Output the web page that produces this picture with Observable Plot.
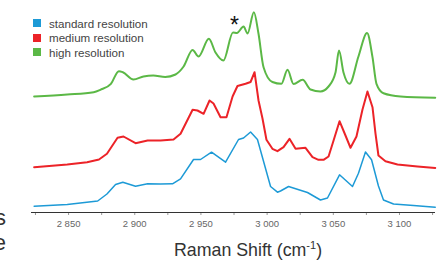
<!DOCTYPE html>
<html><head><meta charset="utf-8">
<script src="https://cdn.jsdelivr.net/npm/d3@7"></script>
<script src="https://cdn.jsdelivr.net/npm/@observablehq/plot@0.6"></script>
<style>
body{margin:0;background:#fff;font-family:"Liberation Sans",Arial,sans-serif;}
#wrap{position:relative;width:446px;height:262px;overflow:hidden;}
#wrap svg{position:absolute;left:0;top:0;}
.legend{position:absolute;left:33px;top:16px;font-size:11.6px;color:#444;}
.legend .row{display:flex;align-items:center;height:14.5px;}
.legend .sw{width:8px;height:8px;margin-right:8px;}
.xlabel{position:absolute;top:240px;left:248px;transform:translateX(-50%);font-size:17.8px;color:#333;white-space:nowrap;line-height:20px;}
.xlabel sup{font-size:11px;vertical-align:7px;line-height:0;}
.frag{position:absolute;right:440px;font-size:22px;color:#333;line-height:22px;}
</style></head><body><div id="wrap"></div>
<script>
// Series meta
const seriesNames = ["standard resolution", "medium resolution", "high resolution"];
const seriesColors = ["#1d9ad6", "#ec2328", "#5bb846"];
const seriesOffsets = [0, 40, 110];
const seriesWidths = [1.5, 2, 2];

// Raman shift (cm-1) / intensity readings
const standardX = [2824,2849,2872,2879,2885.5,2891,2900.6,2909.7,2919.5,2928.5,2934.6,2944.4,2949.7,2958,2968.6,2978.4,2982.2,2987.5,2992.7,3002.6,3007.8,3010.1,3016.2,3030.5,3040.3,3045.6,3054.7,3064.5,3069,3074.3,3078.9,3084.1,3087.9,3095.5,3110.6,3127];
const standardY = [0.3,2,5.5,12.5,22,24.3,20.3,22.7,22.5,22.7,27.7,47,47,54.3,44.3,67,68.5,74.5,67,20,14.3,15.5,20,14,6.5,8.5,31.7,20,33.3,54.5,46.7,20.5,6.5,2.5,1,-0.7];

const mediumX = [2824,2849,2864,2873,2879,2887,2891.5,2900.6,2909.7,2919.5,2929.3,2934.6,2943.7,2947.4,2952,2956.5,2959.5,2964.8,2969.3,2973.9,2977.6,2983.7,2987.5,2990.5,2993.5,2996.5,2999.5,3004,3007.8,3012.4,3016.9,3021.5,3029,3034.3,3038.8,3042.6,3046.4,3050.2,3054.7,3059.2,3063,3067.5,3072,3075.8,3079.6,3081.9,3084.1,3089.4,3098.5,3113.6,3127];
const mediumY = [-0.7,2,4.3,7,12.7,28.7,30,23.3,26,26,27,32.7,56.7,56,52.7,66,63,49.3,49.3,70,80.5,82.7,84.5,94.3,66,48,26.7,17.7,15.3,19.3,27.7,17.7,18.7,9.3,6.7,6.7,10,26,45.3,31,18.7,30,56.7,75,59.3,32.7,11,5.3,2,0,-1.5];

const highX = [2824,2849,2869,2874,2882,2888,2891,2899,2906.6,2914,2923,2930.8,2936.9,2943.7,2948.2,2956,2961,2967,2974.2,2977.2,2982.2,2985.2,2990,2993.5,2997.3,3004,3010.8,3015.4,3020,3026.8,3032.8,3040.3,3046.4,3051.7,3054.3,3057.7,3062.2,3069,3075.5,3079.6,3082.6,3087.9,3100.8,3127];
const highY = [0,2,4.3,6.7,12.7,25.3,24.3,17,20,21,19.5,22,30,46.5,40,57.7,44,36,64,63.5,70,63,84.3,62.7,29.3,14.5,12.7,26.7,12.5,16.7,7,5,10,24.3,46,24,12.7,40,63.5,39.3,12.7,3.3,0,-1.3];

// x ticks
const minorTicks = [2825,2850,2875,2900,2925,2950,2975,3000,3025,3050,3075,3100,3125];
const labelTicks = [2850,2900,2950,3000,3050,3100];

// annotation (asterisk over the high-resolution band)
const annotationX = [2975.4];
const annotationY = [181];
const annotationText = ["*"];

const xs = [standardX, mediumX, highX];
const ys = [standardY, mediumY, highY];
const rows = [];
seriesNames.forEach((name, i) => {
  xs[i].forEach((x, j) => rows.push({series: name, x, y: ys[i][j] + seriesOffsets[i]}));
});
const annotations = annotationX.map((x, i) => ({x, y: annotationY[i], text: annotationText[i]}));

const fmt = d3.formatLocale({decimal: ".", thousands: " ", grouping: [3], currency: ["", ""]}).format(",");

const curves = ["linear", "linear", "monotone-x"];
const plot = Plot.plot({
  width: 446,
  height: 262,
  marginLeft: 31,
  marginRight: 11,
  marginTop: 0,
  marginBottom: 50,
  style: {fontFamily: '"Liberation Sans", Arial, sans-serif', background: "transparent"},
  x: {domain: [2822, 3127.2]},
  y: {domain: [-6, 206], axis: null},
  marks: [
    ...seriesNames.map((name, i) => Plot.line(rows.filter(r => r.series === name), {
      x: "x", y: "y", stroke: seriesColors[i], strokeWidth: seriesWidths[i],
      curve: curves[i], strokeLinejoin: "round"
    })),
    Plot.text(annotations, {x: "x", y: "y", text: "text", fontSize: 23, fill: "#111"}),
    Plot.axisX({ticks: minorTicks, tickSize: 3, tickFormat: () => "", stroke: "#999", label: null}),
    Plot.axisX({ticks: labelTicks, tickSize: 0, tickPadding: 8, tickFormat: fmt, fontSize: 9.5, fill: "#666", label: null}),
    Plot.ruleY([-6], {stroke: "#333", strokeWidth: 1.2})
  ]
});

const wrap = document.getElementById("wrap");
wrap.appendChild(plot);

const legend = document.createElement("div");
legend.className = "legend";
seriesNames.forEach((name, i) => {
  const row = document.createElement("div");
  row.className = "row";
  const sw = document.createElement("span");
  sw.className = "sw";
  sw.style.background = seriesColors[i];
  const t = document.createElement("span");
  t.textContent = name;
  row.appendChild(sw); row.appendChild(t);
  legend.appendChild(row);
});
wrap.appendChild(legend);

const xl = document.createElement("div");
xl.className = "xlabel";
xl.innerHTML = "Raman Shift (cm<sup>-1</sup>)";
wrap.appendChild(xl);

[["s", 207], ["e", 232]].forEach(([t, top]) => {
  const f = document.createElement("div");
  f.className = "frag";
  f.style.top = top + "px";
  f.textContent = t;
  wrap.appendChild(f);
});
</script></body></html>
